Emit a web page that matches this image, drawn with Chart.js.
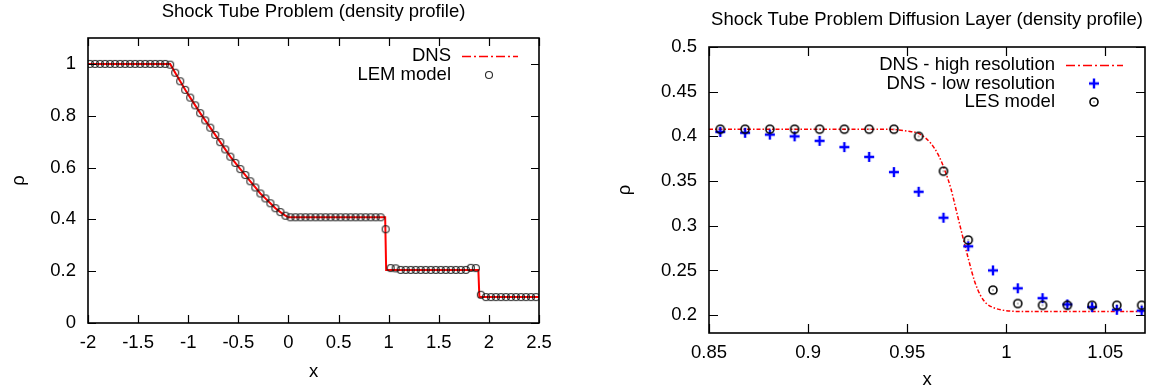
<!DOCTYPE html>
<html lang="en">
<head>
<meta charset="UTF-8">
<title>Shock Tube Problem (density profile)</title>
<script src="https://cdn.jsdelivr.net/npm/chart.js"></script>
<style>
    body { margin: 0; background: #fff; }
    .row { display: flex; width: 1151px; height: 392px; }
    canvas { display: block; }
</style>
</head>
<body>
<div class="row">
    <canvas id="leftChart" width="575" height="392"></canvas>
    <canvas id="rightChart" width="576" height="392"></canvas>
</div>
<script>
// ---- left panel: whole tube ----
const dnsX = [-2, -1.18, -1.13, -1.08, -1.03, -0.98, -0.93, -0.88, -0.83, -0.78, -0.73, -0.68, -0.63,
    -0.58, -0.53, -0.48, -0.43, -0.38, -0.33, -0.28, -0.23, -0.18, -0.13, -0.08, -0.03, 0.0,
    0.965, 0.975, 1.895, 1.905, 2.5];
const dnsY = [1, 1, 0.966, 0.933, 0.900, 0.870, 0.840, 0.810, 0.782, 0.754, 0.726, 0.698, 0.670,
    0.642, 0.618, 0.594, 0.571, 0.547, 0.523, 0.500, 0.481, 0.462, 0.443, 0.428, 0.414, 0.408,
    0.408, 0.205, 0.205, 0.1, 0.1];

const lemX = [-1.98, -1.93, -1.88, -1.83, -1.78, -1.73, -1.68, -1.63, -1.58, -1.53, -1.48, -1.43, -1.38, -1.33, -1.28, -1.23,
    -1.18, -1.13, -1.08, -1.03, -0.98, -0.93, -0.88, -0.83, -0.78, -0.73, -0.68, -0.63, -0.58, -0.53, -0.48, -0.43,
    -0.38, -0.33, -0.28, -0.23, -0.18, -0.13, -0.08, -0.03,
    0.02, 0.07, 0.12, 0.17, 0.22, 0.27, 0.32, 0.37, 0.42, 0.47, 0.52, 0.57, 0.62, 0.67, 0.72, 0.77, 0.82, 0.87, 0.92,
    0.97, 1.02, 1.07,
    1.12, 1.17, 1.22, 1.27, 1.32, 1.37, 1.42, 1.47, 1.52, 1.57, 1.62, 1.67, 1.72, 1.77,
    1.82, 1.87, 1.92,
    1.97, 2.02, 2.07, 2.12, 2.17, 2.22, 2.27, 2.32, 2.37, 2.42, 2.47];
const lemY = [1, 1, 1, 1, 1, 1, 1, 1, 1, 1, 1, 1, 1, 1, 1, 1,
    0.997, 0.966, 0.933, 0.900, 0.870, 0.840, 0.810, 0.782, 0.754, 0.726, 0.698, 0.670, 0.642, 0.618, 0.594, 0.571,
    0.547, 0.523, 0.500, 0.481, 0.462, 0.443, 0.428, 0.414,
    0.408, 0.408, 0.408, 0.408, 0.408, 0.408, 0.408, 0.408, 0.408, 0.408, 0.408, 0.408, 0.408, 0.408, 0.408, 0.408, 0.408, 0.408, 0.408,
    0.362, 0.212, 0.211,
    0.205, 0.205, 0.205, 0.205, 0.205, 0.205, 0.205, 0.205, 0.205, 0.205, 0.205, 0.205, 0.205, 0.205,
    0.213, 0.212, 0.109,
    0.1, 0.1, 0.1, 0.1, 0.1, 0.1, 0.1, 0.1, 0.1, 0.1, 0.1];

const leftXTicks = [-2, -1.5, -1, -0.5, 0, 0.5, 1, 1.5, 2, 2.5];
const leftXLabels = ['-2', '-1.5', '-1', '-0.5', '0', '0.5', '1', '1.5', '2', '2.5'];
const leftYTicks = [0, 0.2, 0.4, 0.6, 0.8, 1];
const leftYLabels = ['0', '0.2', '0.4', '0.6', '0.8', '1'];

// ---- right panel: diffusion layer ----
const hiX = [0.85, 0.94, 0.95, 0.956, 0.962, 0.966, 0.969, 0.972, 0.975, 0.978, 0.981, 0.984, 0.987, 0.990, 0.994, 1.0, 1.01, 1.07];
const hiY = [0.408, 0.408, 0.406, 0.403, 0.392, 0.378, 0.362, 0.342, 0.315, 0.288, 0.262, 0.238, 0.222, 0.213, 0.208, 0.205, 0.204, 0.204];

const lesX = [0.8557, 0.8682, 0.8807, 0.8932, 0.9058, 0.9183, 0.9308, 0.9433, 0.9558, 0.9683, 0.9808, 0.9933,
    1.0058, 1.0183, 1.0308, 1.0433, 1.0558, 1.0683];
const lowY = [0.405, 0.404, 0.402, 0.400, 0.395, 0.388, 0.377, 0.360, 0.338, 0.309, 0.277, 0.250,
    0.230, 0.219, 0.212, 0.209, 0.206, 0.205];
const lesY = [0.408, 0.408, 0.408, 0.408, 0.408, 0.408, 0.408, 0.408, 0.400, 0.361, 0.284, 0.228,
    0.213, 0.211, 0.211, 0.211, 0.211, 0.211];

const rightXTicks = [0.85, 0.9, 0.95, 1, 1.05];
const rightXLabels = ['0.85', '0.9', '0.95', '1', '1.05'];
const rightYTicks = [0.2, 0.25, 0.3, 0.35, 0.4, 0.45, 0.5];
const rightYLabels = ['0.2', '0.25', '0.3', '0.35', '0.4', '0.45', '0.5'];

const FONT = '"Liberation Sans", Arial, Helvetica, sans-serif';
const FONT_SIZE = 18.5;
Chart.defaults.font.family = FONT;
Chart.defaults.font.size = FONT_SIZE;
Chart.defaults.color = '#000';

const RED = 'rgb(255,0,0)';
const BLUE = 'rgb(0,0,255)';

function toPoints(xs, ys) {
    return xs.map((x, i) => ({ x: x, y: ys[i] }));
}

// small canvases used as point markers (gnuplot style)
function makeMarker(kind) {
    const c = document.createElement('canvas');
    c.width = 14; c.height = 14;
    const g = c.getContext('2d');
    if (kind === 'ring') {
        g.strokeStyle = 'rgba(20,20,20,0.9)';
        g.lineWidth = 1.1;
        g.beginPath(); g.arc(7, 7, 3.5, 0, Math.PI * 2); g.stroke();
    } else if (kind === 'ringDot') {
        g.strokeStyle = '#000';
        g.lineWidth = 1.6;
        g.beginPath(); g.arc(7, 7, 4, 0, Math.PI * 2); g.stroke();
        g.fillStyle = '#000';
        g.fillRect(6.5, 6.5, 1, 1);
    } else if (kind === 'plus') {
        g.strokeStyle = BLUE;
        g.lineWidth = 2.4;
        g.beginPath();
        g.moveTo(2, 7); g.lineTo(12, 7);
        g.moveTo(7, 2); g.lineTo(7, 12);
        g.stroke();
    }
    return c;
}
const ringMarker = makeMarker('ring');
const ringDotMarker = makeMarker('ringDot');
const plusMarker = makeMarker('plus');

// frame, inward ticks, titles and gnuplot-like key
const gnuplotLook = {
    id: 'gnuplotLook',
    afterDatasetsDraw(chart, args, opts) {
        const { ctx, chartArea: a, scales } = chart;
        ctx.save();
        ctx.strokeStyle = '#000';
        ctx.lineWidth = 1.2;
        ctx.beginPath();
        scales.x.ticks.forEach(t => {
            const px = Math.round(scales.x.getPixelForValue(t.value)) + 0.5;
            ctx.moveTo(px, a.bottom); ctx.lineTo(px, a.bottom - opts.tick);
            ctx.moveTo(px, a.top); ctx.lineTo(px, a.top + opts.tick);
        });
        scales.y.ticks.forEach(t => {
            const py = Math.round(scales.y.getPixelForValue(t.value)) + 0.5;
            ctx.moveTo(a.left, py); ctx.lineTo(a.left + opts.tick, py);
            ctx.moveTo(a.right, py); ctx.lineTo(a.right - opts.tick, py);
        });
        ctx.stroke();
        ctx.lineWidth = 1.6;
        ctx.strokeRect(a.left, a.top, a.right - a.left, a.bottom - a.top);

        ctx.fillStyle = '#000';
        ctx.font = FONT_SIZE + 'px ' + FONT;
        ctx.textAlign = 'center';
        ctx.textBaseline = 'middle';
        ctx.fillText(opts.title, (a.left + a.right) / 2, a.top - opts.titleGap);
        ctx.fillText('x', (a.left + a.right) / 2, a.bottom + opts.xLabelGap);
        ctx.save();
        ctx.translate(a.left - opts.yLabelGap, (a.top + a.bottom) / 2);
        ctx.rotate(-Math.PI / 2);
        ctx.fillText('ρ', 0, 0);
        ctx.restore();

        // key
        ctx.textAlign = 'right';
        opts.key.forEach((k, i) => {
            const y = a.top + opts.keyTop + i * opts.keyStep;
            ctx.fillStyle = '#000';
            ctx.fillText(k.label, a.right - opts.keyText, y);
            if (k.line) {
                ctx.save();
                ctx.strokeStyle = RED;
                ctx.lineWidth = 1.4;
                ctx.setLineDash([9, 3, 2, 3]);
                ctx.beginPath();
                ctx.moveTo(a.right - opts.keyLine[0], y + 0.5);
                ctx.lineTo(a.right - opts.keyLine[1], y + 0.5);
                ctx.stroke();
                ctx.restore();
            } else {
                const cx = a.right - opts.keyMark;
                ctx.drawImage(k.marker, cx - 7, y - 7);
            }
        });
        ctx.restore();
    }
};

function axis(min, max, ticks, labels, isX, size, pad) {
    return {
        type: 'linear',
        min: min,
        max: max,
        afterBuildTicks: s => { s.ticks = ticks.map(v => ({ value: v })); },
        afterFit: s => { if (isX) { s.height = size; } else { s.width = size; } },
        grid: { display: false, drawTicks: false },
        border: { display: false },
        ticks: {
            padding: pad,
            autoSkip: false,
            maxRotation: 0,
            callback: v => { const i = ticks.indexOf(v); return i >= 0 ? labels[i] : ''; }
        }
    };
}

new Chart(document.getElementById('leftChart'), {
    type: 'scatter',
    data: {
        datasets: [
            {
                label: 'LEM model',
                data: toPoints(lemX, lemY),
                pointStyle: ringMarker,
                pointRadius: 4
            },
            {
                label: 'DNS',
                data: toPoints(dnsX, dnsY),
                showLine: true,
                borderColor: RED,
                borderWidth: 2,
                pointRadius: 0,
                tension: 0
            }
        ]
    },
    options: {
        responsive: false,
        animation: false,
        layout: { padding: { top: 38, right: 36, left: 0, bottom: 0 } },
        plugins: {
            legend: { display: false },
            tooltip: { enabled: false },
            gnuplotLook: {
                title: 'Shock Tube Problem (density profile)',
                tick: 8, titleGap: 26, xLabelGap: 49, yLabelGap: 69,
                keyTop: 18, keyStep: 19, keyText: 88, keyLine: [77, 21], keyMark: 50,
                key: [{ label: 'DNS', line: true }, { label: 'LEM model', marker: ringMarker }]
            }
        },
        scales: {
            x: axis(-2, 2.5, leftXTicks, leftXLabels, true, 69, 9),
            y: axis(0, 1.1, leftYTicks, leftYLabels, false, 88, 12)
        }
    },
    plugins: [gnuplotLook]
});

new Chart(document.getElementById('rightChart'), {
    type: 'scatter',
    data: {
        datasets: [
            {
                label: 'LES model',
                data: toPoints(lesX, lesY),
                pointStyle: ringDotMarker,
                pointRadius: 5
            },
            {
                label: 'DNS - low resolution',
                data: toPoints(lesX, lowY),
                pointStyle: plusMarker,
                pointRadius: 5
            },
            {
                label: 'DNS - high resolution',
                data: toPoints(hiX, hiY),
                showLine: true,
                borderColor: RED,
                borderWidth: 1.5,
                borderDash: [4, 2, 1.5, 2],
                pointRadius: 0,
                cubicInterpolationMode: 'monotone'
            }
        ]
    },
    options: {
        responsive: false,
        animation: false,
        layout: { padding: { top: 47, right: 3, left: 0, bottom: 0 } },
        plugins: {
            legend: { display: false },
            tooltip: { enabled: false },
            gnuplotLook: {
                title: 'Shock Tube Problem Diffusion Layer (density profile)',
                tick: 9, titleGap: 27, xLabelGap: 47, yLabelGap: 84,
                keyTop: 18, keyStep: 18.5, keyText: 90, keyLine: [79, 22], keyMark: 51,
                key: [
                    { label: 'DNS - high resolution', line: true },
                    { label: 'DNS - low resolution', marker: plusMarker },
                    { label: 'LES model', marker: ringDotMarker }
                ]
            }
        },
        scales: {
            x: axis(0.85, 1.07, rightXTicks, rightXLabels, true, 59, 9),
            y: axis(0.18, 0.5, rightYTicks, rightYLabels, false, 134, 12)
        }
    },
    plugins: [gnuplotLook]
});
</script>
</body>
</html>
